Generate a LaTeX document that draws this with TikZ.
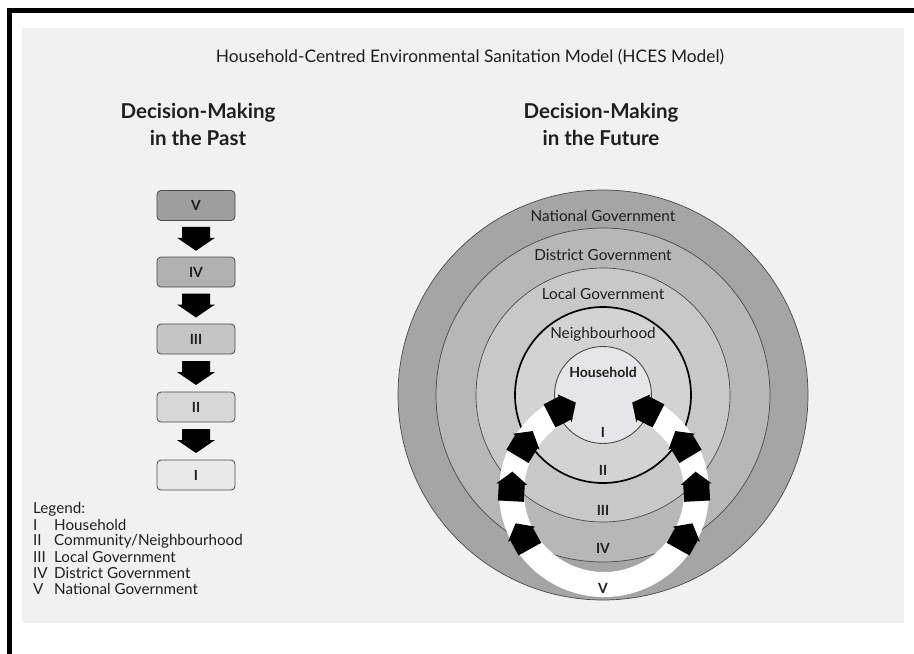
\documentclass[tikz,border=0pt]{standalone}
\usepackage{fontspec}
\setmainfont{Lato}
\usetikzlibrary{calc}
\definecolor{panel}{HTML}{F1F1F2}
\definecolor{natc}{HTML}{A5A5A5}
\definecolor{disc}{HTML}{B7B7B7}
\definecolor{locc}{HTML}{C8C8C8}
\definecolor{neic}{HTML}{D3D3D3}
\definecolor{houc}{HTML}{E6E6E8}
\definecolor{bfive}{HTML}{9E9E9E}
\definecolor{bfour}{HTML}{B1B1B1}
\definecolor{bthree}{HTML}{C5C5C5}
\definecolor{btwo}{HTML}{D7D7D7}
\definecolor{bone}{HTML}{E9E9EA}
\definecolor{linec}{HTML}{4A4A4A}
\definecolor{txt}{HTML}{1F1F1F}
\begin{document}
\begin{tikzpicture}[x=1pt,y=-1pt,
  titlefont/.style={font=\fontsize{17.3}{20}\selectfont, text=txt},
  heading/.style={font=\fontsize{20.5}{27}\selectfont\bfseries, text=txt, align=center},
  ringlabel/.style={font=\fontsize{15.3}{17}\selectfont, text=txt},
  numlabel/.style={font=\fontsize{14}{16}\selectfont\bfseries, text=txt},
  legendtext/.style={font=\fontsize{15.2}{16}\selectfont, text=txt, anchor=west, inner sep=0pt},
  pastbox/.style={draw=linec, rounded corners=4pt, minimum width=78pt, minimum height=30pt, inner sep=0pt, line width=0.8pt, font=\fontsize{14}{16}\selectfont\bfseries, text=txt},
  ringline/.style={draw=linec, line width=0.7pt},
  blockarrow/.style={fill=black}
]
\useasboundingbox (0,0) rectangle (914,654);
\fill[white] (0,0) rectangle (914,654);
\fill[black] (7,8) rectangle (914,13);
\fill[black] (7,8) rectangle (12,654);
\fill[panel] (22,28) rectangle (904,623);

% title and headings
\node[titlefont] (title) at (470,57) {Household-Centred Environmental Sanitation Model (HCES Model)};
\node[heading] (hpast) at (198,124.5) {Decision-Making\\in the Past};
\node[heading] (hfut) at (601,124.5) {Decision-Making\\in the Future};

% past column
\node[pastbox, fill=bfive] (b5) at (196,205.5) {V};
\node[pastbox, fill=bfour] (b4) at (196,272) {IV};
\node[pastbox, fill=bthree] (b3) at (196,339) {III};
\node[pastbox, fill=btwo] (b2) at (196,407) {II};
\node[pastbox, fill=bone] (b1) at (196,475) {I};
\foreach \u/\l in {b5/b4, b4/b3, b3/b2, b2/b1}{
  \fill[blockarrow] ($(\u.south)!.5!(\l.north)$) ++(-14,-12) -- ++(28,0) -- ++(0,11) -- ++(5,0) -- ++(-19,13) -- ++(-19,-13) -- ++(5,0) -- cycle;
}

% legend
\node[legendtext] (lg) at (33,509) {Legend:};
\node[legendtext] (l1) at (33,525) {\makebox[21pt][l]{I}Household};
\node[legendtext] (l2) at (33,541) {\makebox[21pt][l]{II}Community/Neighbourhood};
\node[legendtext] (l3) at (33,557) {\makebox[21pt][l]{III}Local Government};
\node[legendtext] (l4) at (33,573) {\makebox[21pt][l]{IV}District Government};
\node[legendtext] (l5) at (33,589) {\makebox[21pt][l]{V}National Government};

% concentric circles
\coordinate (cc) at (603,395);
\filldraw[ringline, fill=natc] (cc) circle[radius=205pt];
\filldraw[ringline, fill=disc] (cc) circle[radius=167pt];
\filldraw[ringline, fill=locc] (cc) circle[radius=127pt];
\filldraw[draw=black, line width=1.7pt, fill=neic] (cc) circle[radius=88pt];
\filldraw[draw=linec, line width=0.9pt, fill=houc] (cc) circle[radius=48.5pt];

% white ring
\coordinate (rc) at (604,492);
\draw[white, line width=25pt] ($(rc)+(63:92.5pt)$) arc[start angle=63, end angle=-243, radius=92.5pt];

% arrows on the ring
\foreach \a/\d in {117/27, 149/59, 177/87, 209/119, 63/153, 31/121, 3/93, -29/61}{
  \begin{scope}[shift={(rc)}, shift={(\a:92.5pt)}, rotate=\d]
    \fill[blockarrow] (-14,-13) -- (3,-13) -- (3,-15.5) -- (15.5,0) -- (3,15.5) -- (3,13) -- (-14,13) -- cycle;
  \end{scope}
}

% ring labels
\node[ringlabel] (tnat) at (603,216) {National Government};
\node[ringlabel] (tdis) at (603,255) {District Government};
\node[ringlabel] (tloc) at (603,294) {Local Government};
\node[ringlabel] (tnei) at (603,334) {Neighbourhood};
\node[ringlabel, font=\fontsize{14}{16}\selectfont\bfseries] (thou) at (603,372) {Household};

% numerals
\node[numlabel] (n1) at (603,432) {I};
\node[numlabel] (n2) at (603,470) {II};
\node[numlabel] (n3) at (603,510) {III};
\node[numlabel] (n4) at (603,548) {IV};
\node[numlabel] (n5) at (603,588) {V};
\end{tikzpicture}
\end{document}
